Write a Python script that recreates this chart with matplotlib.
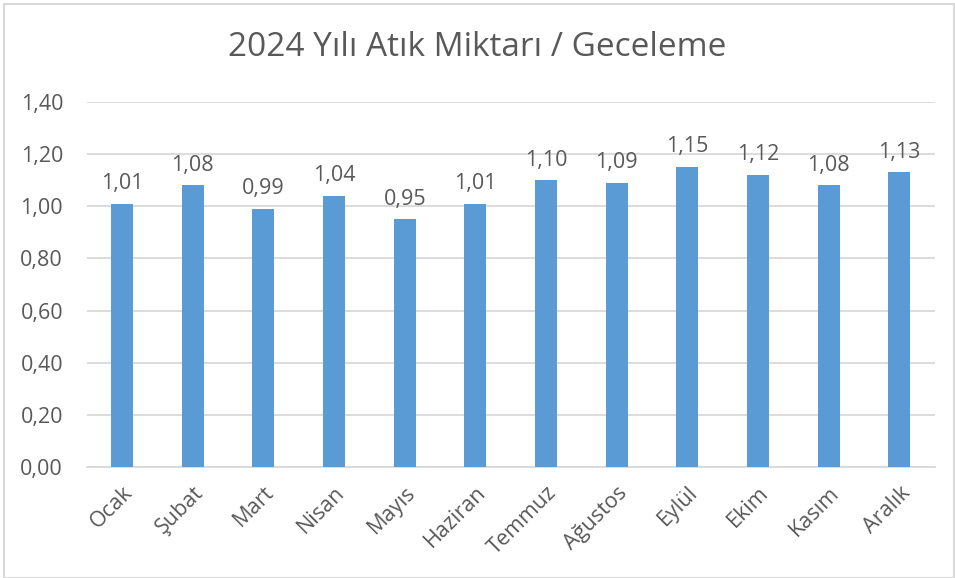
import matplotlib
matplotlib.use('Agg')
import matplotlib.pyplot as plt
from matplotlib.patches import Rectangle

# Data
months = ['Ocak', 'Şubat', 'Mart', 'Nisan', 'Mayıs', 'Haziran',
          'Temmuz', 'Ağustos', 'Eylül', 'Ekim', 'Kasım', 'Aralık']
values = [1.01, 1.08, 0.99, 1.04, 0.95, 1.01,
          1.10, 1.09, 1.15, 1.12, 1.08, 1.13]
y_ticks = [0.0, 0.2, 0.4, 0.6, 0.8, 1.0, 1.2, 1.4]

BAR_COLOR = '#5b9bd5'
TEXT_COLOR = '#595959'
GRID_COLOR = '#d9d9d9'

plt.rcParams['font.family'] = ['Open Sans', 'DejaVu Sans']

fig = plt.figure(figsize=(9.55, 5.78), dpi=100)
ax = fig.add_axes([0.0908, 0.192, 0.888, 0.6315])

x = list(range(len(months)))
ax.bar(x, values, width=0.31, color=BAR_COLOR, zorder=3)

for xi, v in zip(x, values):
    ax.annotate(f'{v:.2f}'.replace('.', ','), (xi, v),
                xytext=(0, 7), textcoords='offset points',
                ha='center', va='bottom', fontsize=15.5, color=TEXT_COLOR)

ax.set_xlim(-0.5, len(months) - 0.5)
ax.set_ylim(0, 1.4)
ax.set_yticks(y_ticks)
ax.set_yticklabels([f'{t:.2f}'.replace('.', ',') for t in y_ticks])
ax.set_xticks(x)
ax.set_xticklabels(months, rotation=45, ha='right', rotation_mode='anchor')

ax.tick_params(axis='both', length=0, labelsize=15.5, colors=TEXT_COLOR)
ax.tick_params(axis='y', pad=17)
ax.tick_params(axis='x', pad=11)
ax.grid(axis='y', color=GRID_COLOR, linewidth=1.3, zorder=0)
for side in ['top', 'right', 'left']:
    ax.spines[side].set_visible(False)
ax.spines['bottom'].set_color(GRID_COLOR)
ax.spines['bottom'].set_linewidth(1.3)

fig.text(0.5, 0.917, '2024 Yılı Atık Miktarı / Geceleme',
         ha='center', va='center', fontsize=24, color=TEXT_COLOR)

# light chart-area border, like the Excel chart frame
fig.patches.append(Rectangle((0.004, 0.0), 0.995, 0.993, transform=fig.transFigure,
                             fill=False, edgecolor='#d9d9d9', linewidth=1.5))

fig.savefig('out.png', dpi=100)
